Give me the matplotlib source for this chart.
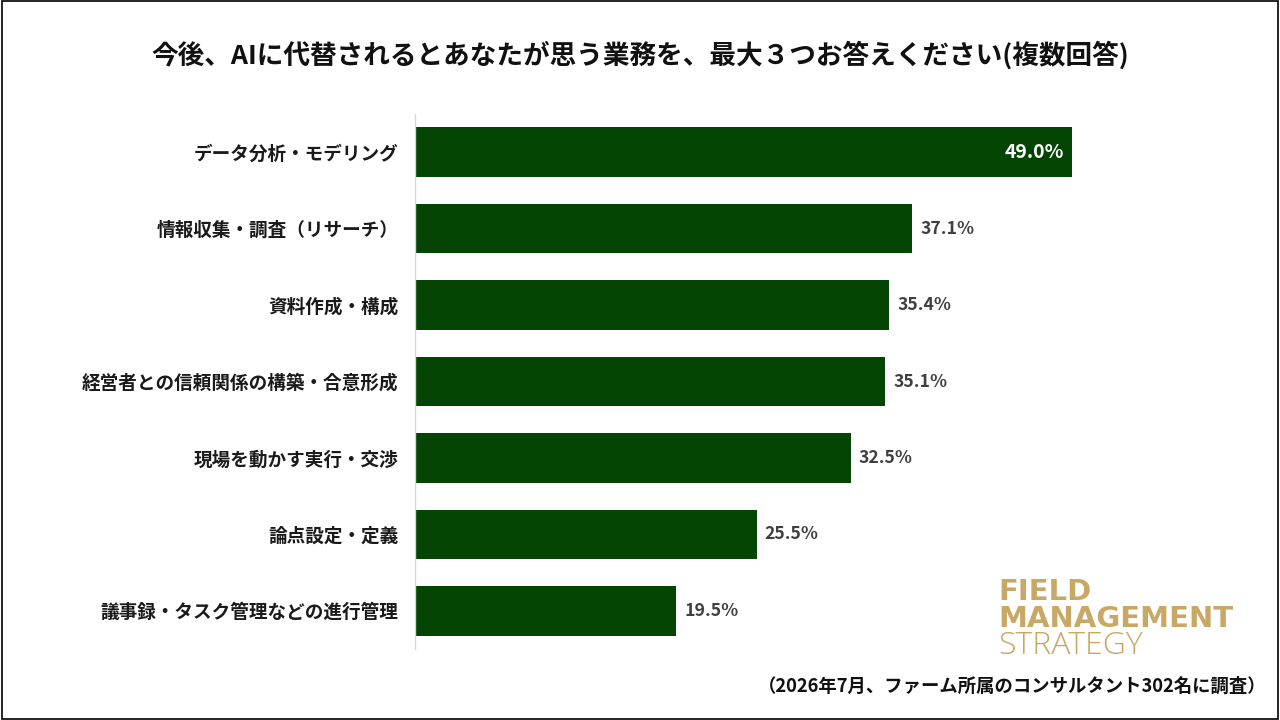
import matplotlib
matplotlib.use("Agg")
import matplotlib.pyplot as plt
from matplotlib.patches import Rectangle

plt.rcParams['font.family'] = ['Noto Sans CJK JP', 'DejaVu Sans']

categories = [
    "データ分析・モデリング",
    "情報収集・調査（リサーチ）",
    "資料作成・構成",
    "経営者との信頼関係の構築・合意形成",
    "現場を動かす実行・交渉",
    "論点設定・定義",
    "議事録・タスク管理などの進行管理",
]
values = [49.0, 37.1, 35.4, 35.1, 32.5, 25.5, 19.5]
title = "今後、AIに代替されるとあなたが思う業務を、最大３つお答えください(複数回答)"
footnote = "（2026年7月、ファーム所属のコンサルタント302名に調査）"

bar_color = "#044504"
gold = "#C8A865"

fig = plt.figure(figsize=(12.8, 7.2), dpi=100)
fig.patches.append(Rectangle((0.0015, 0.002), 0.997, 0.996, transform=fig.transFigure,
                             fill=False, edgecolor="black", linewidth=1.2))

ax = fig.add_axes([415/1280, 71/720, 705/1280, 535/720])
y = list(range(len(categories)))
ax.barh(y, values, height=0.65, color=bar_color)
ax.set_ylim(len(categories) - 0.5, -0.5)
ax.set_xlim(0, 52.6)
ax.set_yticks(y)
ax.set_yticklabels(categories, fontsize=13.4, fontweight="bold", color="#1a1a1a")
ax.tick_params(axis="y", length=0, pad=12)
ax.set_xticks([])
for s in ["top", "right", "bottom"]:
    ax.spines[s].set_visible(False)
ax.spines["left"].set_color("#d9d9d9")
ax.spines["left"].set_linewidth(1)

for i, v in enumerate(values):
    if i == 0:
        ax.text(v - 0.6, i, f"{v:.1f}%", ha="right", va="center", color="white",
                fontsize=14, fontweight="bold")
    else:
        ax.text(v + 0.6, i, f"{v:.1f}%", ha="left", va="center", color="#404040",
                fontsize=12.7, fontweight="bold")

fig.text(0.5, 1 - 55/720, title, ha="center", va="center", fontsize=19.2,
         fontweight="bold", color="#111111")
fig.text(1267/1280, 1 - 686/720, footnote, ha="right", va="center", fontsize=13.2,
         fontweight="bold", color="#111111")

lx = 998/1280
fig.text(lx, 1 - 592/720, "FIELD", ha="left", va="center", fontsize=21,
         fontweight="bold", color=gold, family="DejaVu Sans")
fig.text(lx, 1 - 619/720, "MANAGEMENT", ha="left", va="center", fontsize=21,
         fontweight="bold", color=gold, family="DejaVu Sans")
fig.text(lx, 1 - 646/720, "STRATEGY", ha="left", va="center", fontsize=23,
         fontweight="light", color=gold, family="Open Sans")

fig.savefig("out.png", dpi=100)
